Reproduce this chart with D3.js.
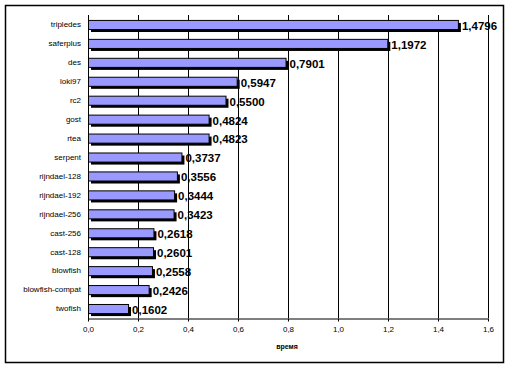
<!DOCTYPE html>
<html><head><meta charset="utf-8">
<script src="https://cdn.jsdelivr.net/npm/d3@7"></script>
<style>body{margin:0;background:#fff}svg{display:block}</style>
</head><body>
<script>
const categories = ["tripledes","saferplus","des","loki97","rc2","gost","rtea","serpent","rijndael-128","rijndael-192","rijndael-256","cast-256","cast-128","blowfish","blowfish-compat","twofish"];
const values = [1.4796,1.1972,0.7901,0.5947,0.5500,0.4824,0.4823,0.3737,0.3556,0.3444,0.3423,0.2618,0.2601,0.2558,0.2426,0.1602];
const ticks = [0,0.2,0.4,0.6,0.8,1.0,1.2,1.4,1.6];
const xTitle = "время";

const W=509,H=368;
const svg=d3.select("body").append("svg").attr("width",W).attr("height",H);
svg.append("rect").attr("x",5.5).attr("y",5.5).attr("width",498).attr("height",357).attr("fill","#fff").attr("stroke","#000").attr("stroke-width",1.5);

const pL=88, pR=488, pT=15, pB=318;
const x=d3.scaleLinear().domain([0,1.6]).range([pL,pR]);
const y=d3.scaleBand().domain(categories).range([pT,pB]).paddingInner(0.52).paddingOuter(0.26);

const fmt=v=>d3.format(".1f")(v).replace(".",",");
const fmt4=v=>d3.format(".4f")(v).replace(".",",");

// gridlines
svg.append("g").selectAll("line").data(ticks.slice(1)).join("line")
  .attr("x1",d=>Math.round(x(d))+0.5).attr("x2",d=>Math.round(x(d))+0.5)
  .attr("y1",pT).attr("y2",pB).attr("stroke","#000").attr("stroke-width",1);

// x axis
const ax=svg.append("g").attr("transform",`translate(0,${pB+0.5})`)
  .call(d3.axisBottom(x).tickValues(ticks).tickFormat(fmt).tickSize(3).tickSizeOuter(0));
ax.select(".domain").attr("stroke","#000");
ax.selectAll(".tick line").attr("stroke","#000");
ax.selectAll(".tick text").attr("font-family","Liberation Sans, Arial, sans-serif").attr("font-size",8).attr("dy","0.9em").attr("fill","#000");

// y axis line
svg.append("line").attr("x1",pL+0.5).attr("x2",pL+0.5).attr("y1",pT).attr("y2",pB+3).attr("stroke","#000");

// category labels
svg.append("g").selectAll("text").data(categories).join("text")
  .attr("x",pL-7).attr("y",d=>y(d)+y.bandwidth()/2).attr("dy","0.35em")
  .attr("text-anchor","end").attr("font-family","Liberation Sans, Arial, sans-serif").attr("font-size",8).text(d=>d);

const data=categories.map((c,i)=>({c,v:values[i]}));
// shadows
svg.append("g").selectAll("rect").data(data).join("rect")
  .attr("x",pL+3).attr("y",d=>y(d.c)+3).attr("width",d=>x(d.v)-pL).attr("height",y.bandwidth())
  .attr("fill","#000");
// bars
svg.append("g").selectAll("rect").data(data).join("rect")
  .attr("x",pL+0.5).attr("y",d=>y(d.c)+0.5).attr("width",d=>x(d.v)-pL).attr("height",y.bandwidth())
  .attr("fill","#9999ff").attr("stroke","#000").attr("stroke-width",1);
// value labels
svg.append("g").selectAll("text").data(data).join("text")
  .attr("x",d=>x(d.v)+4).attr("y",d=>y(d.c)+y.bandwidth()/2+1).attr("dy","0.38em")
  .attr("font-family","Liberation Sans, Arial, sans-serif").attr("font-weight","bold").attr("font-size",11.5).text(d=>fmt4(d.v));

svg.append("text").attr("x",287).attr("y",349).attr("text-anchor","middle")
  .attr("font-family","Liberation Sans, Arial, sans-serif").attr("font-size",7).attr("font-weight","bold").text(xTitle);
</script>
</body></html>
